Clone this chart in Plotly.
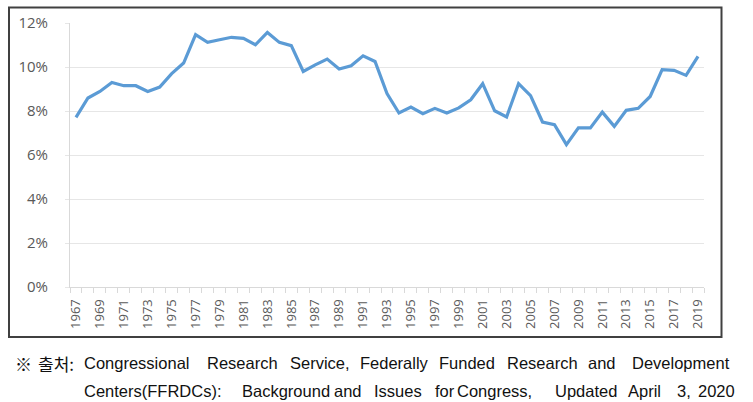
import plotly.graph_objects as go

years = list(range(1967, 2020))
share_pct = [
    7.71, 8.59, 8.89, 9.30, 9.15, 9.15, 8.89, 9.09, 9.70, 10.18,
    11.47, 11.12, 11.24, 11.35, 11.30, 11.01, 11.57, 11.12, 10.97, 9.80,
    10.10, 10.36, 9.91, 10.06, 10.51, 10.25, 8.79, 7.91, 8.18, 7.88,
    8.12, 7.91, 8.14, 8.51, 9.24, 8.01, 7.73, 9.24, 8.70, 7.50,
    7.38, 6.47, 7.23, 7.23, 7.95, 7.30, 8.03, 8.12, 8.66, 9.88,
    9.85, 9.62, 10.48,
]
x_tick_vals = years[::2]
x_tick_text = [str(y) for y in x_tick_vals]
y_tick_vals = [0, 2, 4, 6, 8, 10, 12]
y_tick_text = ["0%", "2%", "4%", "6%", "8%", "10%", "12%"]

caption_line1 = [
    ("※", 12.7), ("출처:", 36),
    ("Congressional", 81.7), ("Research", 205), ("Service,", 288),
    ("Federally", 358), ("Funded", 436.7), ("Research", 504.7),
    ("and", 586), ("Development", 629.7),
]
caption_line2 = [
    ("Centers(FFRDCs):", 81.7), ("Background", 240), ("and", 332),
    ("Issues", 371.7), ("for", 433), ("Congress,", 455), ("Updated", 553),
    ("April", 626), ("3,", 675), ("2020", 696),
]

W, H = 753, 402
L, R, T, B = 70, 49, 23, 115
pw, ph = W - L - R, H - T - B

def px_x(x):
    return (x - L) / pw

def px_y(y):
    return (H - B - y) / ph

fig = go.Figure()
fig.add_trace(go.Scatter(
    x=years, y=share_pct, mode="lines",
    line=dict(color="#5B9BD5", width=3.2),
    hoverinfo="skip", showlegend=False,
))

tick_font = dict(family="Open Sans, Liberation Sans, sans-serif", color="#595959")

fig.update_xaxes(
    automargin=False,
    range=[1966.5, 2019.5],
    tickmode="array", tickvals=x_tick_vals, ticktext=x_tick_text,
    tickangle=-90, tickfont=dict(size=13, **tick_font),
    ticks="", showgrid=False, zeroline=False,
    showline=True, linecolor="#d9d9d9", linewidth=1,
    minor=dict(tickmode="linear", tick0=1966.5, dtick=1, ticks="outside",
               ticklen=5, tickcolor="#d9d9d9", showgrid=False),
    ticklabelstandoff=6,
)
fig.update_yaxes(
    automargin=False,
    range=[0, 12],
    tickmode="array", tickvals=y_tick_vals, ticktext=y_tick_text,
    tickfont=dict(size=15, **tick_font),
    ticks="outside", ticklen=4, tickcolor="#e6e6e6",
    showgrid=True, gridcolor="#e6e6e6", gridwidth=1, zeroline=False,
    showline=True, linecolor="#d9d9d9", linewidth=1,
    ticklabelstandoff=14,
)

shapes = [dict(
    type="rect", xref="paper", yref="paper",
    x0=px_x(9), x1=px_x(721.5), y0=px_y(337), y1=px_y(7.5),
    line=dict(color="#404040", width=2), fillcolor="rgba(0,0,0,0)",
    layer="below",
)]

annotations = []
latin_font = dict(family="Liberation Sans, Arial, sans-serif", size=16.5, color="#111111")
kor_font = dict(family="Noto Sans CJK KR, sans-serif", size=17, color="#111111")
for text, x in caption_line1:
    f = kor_font if text in ("※", "출처:") else latin_font
    annotations.append(dict(
        text=text, x=px_x(x), y=px_y(363), xref="paper", yref="paper",
        xanchor="left", yanchor="middle", showarrow=False, font=f,
    ))
for text, x in caption_line2:
    annotations.append(dict(
        text=text, x=px_x(x), y=px_y(391), xref="paper", yref="paper",
        xanchor="left", yanchor="middle", showarrow=False, font=latin_font,
    ))

fig.update_layout(
    width=W, height=H,
    margin=dict(l=L, r=R, t=T, b=B, pad=0),
    paper_bgcolor="white", plot_bgcolor="white",
    shapes=shapes, annotations=annotations,
    showlegend=False,
)

fig.write_html("out.html", config={"displayModeBar": False},
               post_script="document.body.style.margin='0';")
